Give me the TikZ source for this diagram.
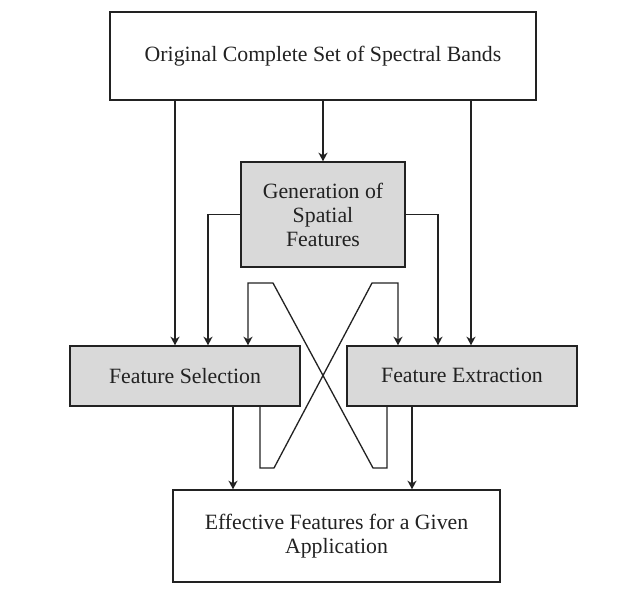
\documentclass[tikz,border=0pt]{standalone}
\usepackage{fontspec}
\setmainfont{Liberation Serif}
\usetikzlibrary{arrows.meta}
\definecolor{boxgray}{HTML}{D9D9D9}
\definecolor{ink}{HTML}{222222}
\begin{document}
\begin{tikzpicture}[x=1pt,y=-1pt,
  box/.style={draw=ink,line width=1.5pt,rectangle,align=center,inner sep=0pt,
    font=\fontsize{21.8}{24}\selectfont,text=ink},
  graybox/.style={box,fill=boxgray},
  conn/.style={draw=ink,line width=1.3pt},
  arr/.style={conn,-{Stealth[length=8.5pt,width=9pt,inset=2.5pt]}}]
\useasboundingbox (0,0) rectangle (634,600);
\fill[white] (0,0) rectangle (634,600);
\node[box,minimum width=426pt,minimum height=88pt] (top) at (323,56) {Original Complete Set of Spectral Bands};
\node[graybox,minimum width=164pt,minimum height=105pt] (gen) at (323,214.5) {Generation of\\Spatial\\Features};
\node[graybox,minimum width=230pt,minimum height=60pt] (fs) at (185,376) {Feature Selection};
\node[graybox,minimum width=230pt,minimum height=60pt,text depth=2pt] (fe) at (462,376) {Feature Extraction};
\node[box,minimum width=327pt,minimum height=92pt] (bot) at (336.5,536) {Effective Features for a Given\\Application};
% helper coordinates
\coordinate (xa) at (175,0);
\coordinate (xb) at (471,0);
\coordinate (xc) at (208,0);
\coordinate (xd) at (438,0);
\coordinate (xe) at (233,0);
\coordinate (xf) at (412,0);
\coordinate (ya) at (0,468);
\coordinate (yb) at (0,283);
\coordinate (c1) at (387,0);
\coordinate (c2) at (373,0);
\coordinate (c3) at (273,0);
\coordinate (c4) at (248,0);
\coordinate (d1) at (260,0);
\coordinate (d2) at (274,0);
\coordinate (d3) at (372,0);
\coordinate (d4) at (398,0);
% connectors
\draw[arr] (top.south) -- (gen.north);
\draw[arr] (xa |- top.south) -- (xa |- fs.north);
\draw[arr] (xb |- top.south) -- (xb |- fe.north);
\draw[arr] (gen.west) -| (xc |- fs.north);
\draw[arr] (gen.east) -| (xd |- fe.north);
\draw[arr] (xe |- fs.south) -- (xe |- bot.north);
\draw[arr] (xf |- fe.south) -- (xf |- bot.north);
\draw[arr] (c1 |- fe.south) -- (c1 |- ya) -- (c2 |- ya) -- (c3 |- yb) -- (c4 |- yb) -- (c4 |- fs.north);
\draw[arr] (d1 |- fs.south) -- (d1 |- ya) -- (d2 |- ya) -- (d3 |- yb) -- (d4 |- yb) -- (d4 |- fe.north);
\end{tikzpicture}
\end{document}
